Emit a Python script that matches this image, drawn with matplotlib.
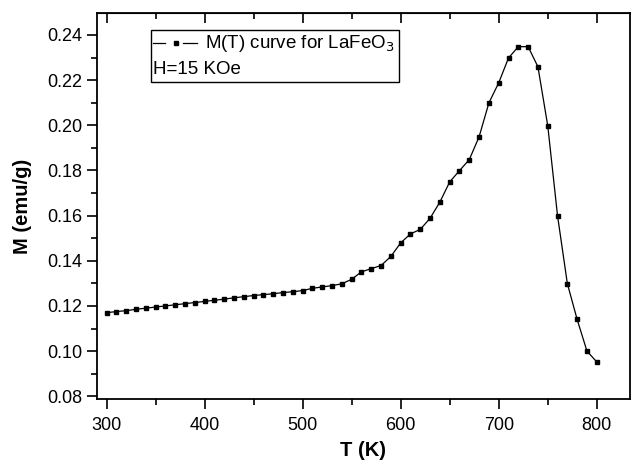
import matplotlib.pyplot as plt
from matplotlib.patches import Rectangle
from matplotlib.lines import Line2D
from matplotlib.ticker import MultipleLocator

plt.rcParams['font.family'] = ['Liberation Sans', 'DejaVu Sans']

# M(T) data
T = [300, 310, 320, 330, 340, 350, 360, 370, 380, 390,
     400, 410, 420, 430, 440, 450, 460, 470, 480, 490,
     500, 510, 520, 530, 540, 550, 560, 570, 580, 590,
     600, 610, 620, 630, 640, 650, 660, 670, 680, 690,
     700, 710, 720, 730, 740, 750, 760, 770, 780, 790, 800]
M = [0.1170, 0.1175, 0.1179, 0.1185, 0.1190, 0.1195, 0.1200, 0.1205, 0.1210, 0.1215,
     0.1220, 0.1225, 0.1230, 0.1236, 0.1241, 0.1246, 0.1250, 0.1254, 0.1259, 0.1263,
     0.1268, 0.1278, 0.1284, 0.1290, 0.1298, 0.1318, 0.1351, 0.1365, 0.1379, 0.1419,
     0.1479, 0.1519, 0.1539, 0.1588, 0.1660, 0.1749, 0.1799, 0.1848, 0.1949, 0.2099,
     0.2188, 0.2298, 0.2348, 0.2348, 0.2259, 0.1998, 0.1599, 0.1299, 0.1140, 0.1000, 0.0952]

fig = plt.figure(figsize=(6.32, 4.65), dpi=100)
ax = fig.add_axes([0.153, 0.142, 0.844, 0.829])

ax.plot(T, M, color='black', lw=0.9, marker='s', ms=3.4)

ax.set_xlim(290, 834)
ax.set_ylim(0.0788, 0.2495)
ax.xaxis.set_major_locator(MultipleLocator(100))
ax.xaxis.set_minor_locator(MultipleLocator(50))
ax.yaxis.set_major_locator(MultipleLocator(0.02))
ax.yaxis.set_minor_locator(MultipleLocator(0.01))
ax.yaxis.set_major_formatter(plt.FuncFormatter(lambda v, p: f'{v:.2f}'))

ax.tick_params(which='both', direction='out', labelsize=13, width=1.2)
ax.tick_params(which='major', length=7)
ax.tick_params(which='minor', length=4)
ax.tick_params(axis='x', pad=6)
for s in ax.spines.values():
    s.set_linewidth(1.3)

# inward ticks on top
ax2 = ax.secondary_xaxis('top')
ax2.xaxis.set_major_locator(MultipleLocator(100))
ax2.xaxis.set_minor_locator(MultipleLocator(50))
ax2.tick_params(which='both', direction='in', labeltop=False, width=1.2)
ax2.tick_params(which='major', length=7)
ax2.tick_params(which='minor', length=4)

ax.set_xlabel('T (K)', fontsize=14.5, fontweight='bold', labelpad=5)
ax.set_ylabel('M (emu/g)', fontsize=14.5, fontweight='bold', labelpad=11)

# legend, drawn by hand in axes coordinates
ly = 0.923
ax.add_line(Line2D([0.105, 0.128], [ly, ly], transform=ax.transAxes,
                   color='black', lw=0.9))
ax.add_line(Line2D([0.162, 0.188], [ly, ly], transform=ax.transAxes,
                   color='black', lw=0.9))
ax.add_line(Line2D([0.1487], [ly], transform=ax.transAxes, color='black',
                   marker='s', ms=3.4, ls='none'))
t1 = ax.text(0.203, ly, r'M(T) curve for LaFeO$_3$', transform=ax.transAxes,
             fontsize=13.5, va='center', ha='left')
ax.text(0.106, 0.855, 'H=15 KOe', transform=ax.transAxes, fontsize=13.5,
        va='center', ha='left')

# size the box to the legend text
fig.canvas.draw()
bb = t1.get_window_extent().transformed(ax.transAxes.inverted())
x0, y0, y1 = 0.101, 0.822, 0.957
ax.add_patch(Rectangle((x0, y0), bb.x1 + 0.008 - x0, y1 - y0,
                       transform=ax.transAxes, fill=False,
                       edgecolor='black', lw=1, zorder=5))

fig.savefig('out.png', dpi=100)
